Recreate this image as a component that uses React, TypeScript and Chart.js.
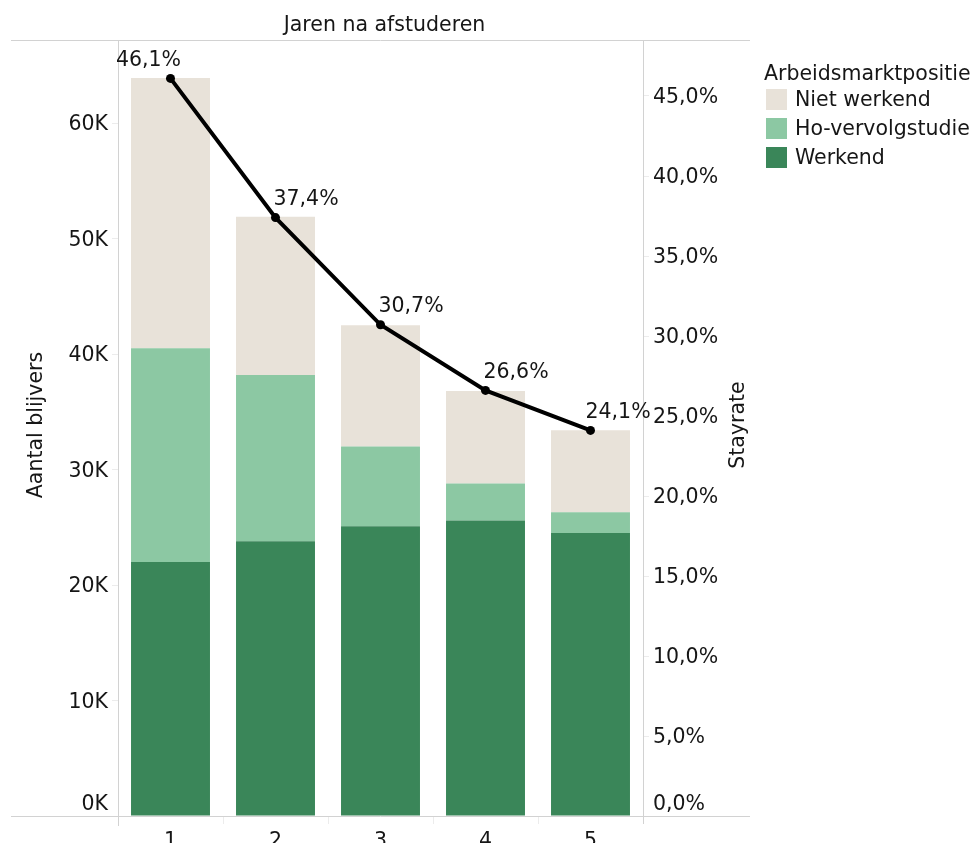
import React, { useEffect, useRef } from 'react';
import { Chart, registerables } from 'chart.js';

Chart.register(...registerables);

const categories = ['1', '2', '3', '4', '5'];
const werkend = [22000, 23800, 25100, 25600, 24500];
const hoVervolgstudie = [18500, 14400, 6900, 3200, 1800];
const nietWerkend = [23400, 13700, 10500, 8000, 7100];
const stayrate = [46.1, 37.4, 30.7, 26.6, 24.1];

const leftTicks = [0, 10000, 20000, 30000, 40000, 50000, 60000];
const rightTicks = [0, 5, 10, 15, 20, 25, 30, 35, 40, 45];

const xTitle = 'Jaren na afstuderen';
const yTitle = 'Aantal blijvers';
const y2Title = 'Stayrate';
const legendTitle = 'Arbeidsmarktpositie';

const COLORS = {
  niet: '#e8e2d9',
  ho: '#8cc8a3',
  werk: '#3a8659',
};

const FONT_FAMILY = '"DejaVu Sans"';
const FONT_SIZE = 20.5;
const FONT = `${FONT_SIZE}px ${FONT_FAMILY}`;
const TEXT = '#161616';
const RULE = '#d2d2d2';

const fmtPct = (v: number) => v.toFixed(1).replace('.', ',') + '%';
const fmtK = (v: number) => Math.round(v / 1000) + 'K';

const decorPlugin = {
  id: 'decor',
  beforeDatasetsDraw(chart: any) {
    const { ctx, chartArea: a } = chart;
    ctx.save();
    ctx.strokeStyle = RULE;
    ctx.lineWidth = 1;
    ctx.beginPath();
    ctx.moveTo(11, a.top + 0.5);
    ctx.lineTo(750, a.top + 0.5);
    ctx.moveTo(11, a.bottom + 0.5);
    ctx.lineTo(750, a.bottom + 0.5);
    ctx.moveTo(a.left + 0.5, a.top);
    ctx.lineTo(a.left + 0.5, a.bottom + 10);
    ctx.moveTo(a.right + 0.5, a.top);
    ctx.lineTo(a.right + 0.5, a.bottom + 8);
    ctx.stroke();
    ctx.strokeStyle = '#ececec';
    ctx.beginPath();
    const xs = chart.scales.x;
    for (let i = 1; i < categories.length; i++) {
      const px = Math.round((xs.getPixelForValue(i - 1) + xs.getPixelForValue(i)) / 2) + 0.5;
      ctx.moveTo(px, a.bottom + 1);
      ctx.lineTo(px, a.bottom + 8);
    }
    ctx.stroke();
    ctx.restore();
  },
  afterDatasetsDraw(chart: any) {
    const { ctx } = chart;
    const meta = chart.getDatasetMeta(3);
    ctx.save();
    ctx.font = FONT;
    ctx.fillStyle = TEXT;
    ctx.textBaseline = 'middle';
    meta.data.forEach((pt: any, i: number) => {
      const label = fmtPct(stayrate[i]);
      if (i === 0) {
        ctx.textAlign = 'center';
        ctx.fillText(label, pt.x - 22, pt.y - 18);
      } else {
        ctx.textAlign = 'left';
        ctx.fillText(label, pt.x - 2 - (i === 4 ? 3 : 0), pt.y - 18);
      }
    });
    ctx.restore();
  },
  afterDraw(chart: any) {
    const { ctx, chartArea: a } = chart;
    ctx.save();
    ctx.font = FONT;
    ctx.fillStyle = TEXT;
    ctx.textBaseline = 'middle';
    ctx.textAlign = 'center';
    ctx.fillText(xTitle, (a.left + a.right) / 2 + 4, 26);
    ctx.textAlign = 'right';
    ctx.fillText(fmtK(0), a.left - 10, a.bottom - 11);
    ctx.textAlign = 'left';
    ctx.fillText(fmtPct(0), a.right + 10, a.bottom - 11);
    const midY = (a.top + a.bottom) / 2 - 3;
    ctx.save();
    ctx.translate(37, midY);
    ctx.rotate(-Math.PI / 2);
    ctx.textAlign = 'center';
    ctx.fillText(yTitle, 0, 0);
    ctx.restore();
    ctx.save();
    ctx.translate(739, midY);
    ctx.rotate(-Math.PI / 2);
    ctx.textAlign = 'center';
    ctx.fillText(y2Title, 0, 0);
    ctx.restore();
    ctx.textAlign = 'left';
    ctx.fillText(legendTitle, 764, 75);
    const items = [
      { label: 'Niet werkend', color: COLORS.niet },
      { label: 'Ho-vervolgstudie', color: COLORS.ho },
      { label: 'Werkend', color: COLORS.werk },
    ];
    items.forEach((it, i) => {
      const y = 89 + i * 29;
      ctx.fillStyle = it.color;
      ctx.fillRect(766, y, 21, 21);
      ctx.fillStyle = TEXT;
      ctx.fillText(it.label, 795, y + 12);
    });
    ctx.restore();
  },
};

export default function App() {
  const canvasRef = useRef<HTMLCanvasElement | null>(null);

  useEffect(() => {
    const canvas = canvasRef.current;
    if (!canvas) return;
    const barCommon = {
      yAxisID: 'y',
      stack: 's',
      order: 1,
      barPercentage: 0.752,
      categoryPercentage: 1,
    };
    const chart = new Chart(canvas, {
      type: 'bar',
      data: {
        labels: categories,
        datasets: [
          { label: 'Werkend', data: werkend, backgroundColor: COLORS.werk, ...barCommon },
          { label: 'Ho-vervolgstudie', data: hoVervolgstudie, backgroundColor: COLORS.ho, ...barCommon },
          { label: 'Niet werkend', data: nietWerkend, backgroundColor: COLORS.niet, ...barCommon },
          {
            type: 'line',
            label: 'Stayrate',
            data: stayrate,
            yAxisID: 'y2',
            borderColor: '#000000',
            backgroundColor: '#000000',
            borderWidth: 4,
            pointRadius: 4.5,
            pointBackgroundColor: '#000000',
            pointBorderWidth: 0,
            tension: 0,
            order: 0,
          } as any,
        ],
      },
      options: {
        responsive: false,
        animation: false,
        maintainAspectRatio: false,
        layout: { padding: { top: 40, left: 0, right: 0, bottom: 0 } },
        plugins: {
          legend: { display: false },
          title: { display: false },
          tooltip: { enabled: false },
        },
        scales: {
          x: {
            stacked: true,
            grid: { display: false },
            border: { display: false },
            ticks: {
              font: { family: FONT_FAMILY, size: FONT_SIZE },
              color: TEXT,
              padding: 5,
            },
            afterFit: (s: any) => {
              s.height = 27;
            },
          },
          y: {
            position: 'left',
            stacked: true,
            min: 0,
            max: 67200,
            afterBuildTicks: (s: any) => {
              s.ticks = leftTicks.map((v) => ({ value: v }));
            },
            grid: {
              drawOnChartArea: false,
              drawTicks: true,
              tickLength: 6,
              color: '#ececec',
            },
            border: { display: false },
            ticks: {
              font: { family: FONT_FAMILY, size: FONT_SIZE },
              color: TEXT,
              padding: 4,
              labelOffset: 2,
              callback: (v: any) => (v === 0 ? '' : fmtK(Number(v))),
            },
            afterFit: (s: any) => {
              s.width = 118;
            },
          },
          y2: {
            position: 'right',
            min: 0,
            max: 48.5,
            afterBuildTicks: (s: any) => {
              s.ticks = rightTicks.map((v) => ({ value: v }));
            },
            grid: {
              drawOnChartArea: false,
              drawTicks: true,
              tickLength: 6,
              color: '#ececec',
            },
            border: { display: false },
            ticks: {
              font: { family: FONT_FAMILY, size: FONT_SIZE },
              color: TEXT,
              padding: 4,
              labelOffset: 2,
              callback: (v: any) => (v === 0 ? '' : fmtPct(Number(v))),
            },
            afterFit: (s: any) => {
              s.width = 333;
            },
          },
        },
      },
      plugins: [decorPlugin],
    } as any);
    return () => chart.destroy();
  }, []);

  return (
    <div style={{ position: 'absolute', left: 0, top: 0, width: 976, height: 843, background: '#ffffff' }}>
      <canvas ref={canvasRef} width={976} height={843} style={{ display: 'block' }} />
    </div>
  );
}
